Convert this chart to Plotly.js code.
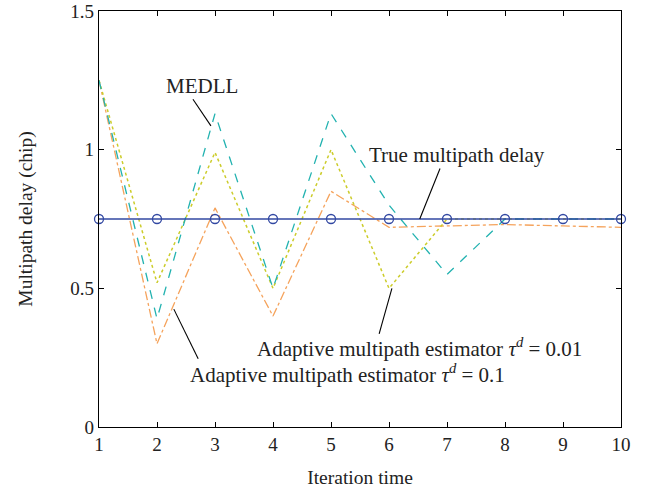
<!DOCTYPE html>
<html>
<head>
<meta charset="utf-8">
<script src="https://cdn.plot.ly/plotly-3.0.1.min.js"></script>
<style>html,body{margin:0;padding:0;background:#fff;}#chart{width:653px;height:492px;}</style>
</head>
<body>
<div id="chart"></div>
<script>
var iterations = [1, 2, 3, 4, 5, 6, 7, 8, 9, 10];
var trueDelay = [0.75, 0.75, 0.75, 0.75, 0.75, 0.75, 0.75, 0.75, 0.75, 0.75];
var medll = [1.25, 0.39, 1.13, 0.50, 1.13, 0.80, 0.55, 0.75, 0.75, 0.75];
var adaptive001 = [1.25, 0.52, 0.99, 0.50, 1.00, 0.50, 0.75, 0.75, 0.75, 0.75];
var adaptive01 = [1.25, 0.30, 0.79, 0.40, 0.85, 0.72, 0.725, 0.73, 0.725, 0.72];
var xTicks = [1, 2, 3, 4, 5, 6, 7, 8, 9, 10];
var yTicks = [0, 0.5, 1, 1.5];
var yTickLabels = ['0', '0.5', '1', '1.5'];

var font = 'Liberation Serif, Times New Roman, serif';
var txt = '#222';
var annSize = 21;

var traces = [
  {x: iterations, y: adaptive01, mode: 'lines', line: {color: '#f5a35c', width: 1.3, dash: 'dashdot'}},
  {x: iterations, y: adaptive001, mode: 'lines', line: {color: '#cccc2a', width: 1.5, dash: 'dot'}},
  {x: iterations, y: medll, mode: 'lines', line: {color: '#22b2b0', width: 1.3, dash: 'dash'}},
  {x: iterations, y: trueDelay, mode: 'lines+markers', line: {color: '#3248a2', width: 1.3},
   marker: {symbol: 'circle-open', size: 9, color: '#3248a2', line: {width: 1.3, color: '#3248a2'}}, cliponaxis: false}
];

var layout = {
  width: 653, height: 492,
  margin: {l: 99, r: 32, t: 11, b: 65},
  paper_bgcolor: '#fff', plot_bgcolor: '#fff',
  showlegend: false,
  font: {family: font, size: 19, color: txt},
  xaxis: {
    range: [1, 10], tickvals: xTicks, ticks: 'inside', ticklen: 5, tickcolor: '#000',
    showline: true, linecolor: '#000', linewidth: 1.2, mirror: 'ticks', showgrid: false, zeroline: false,
    ticklabeloverflow: 'allow',
    tickfont: {family: font, size: 19, color: txt},
    title: {text: 'Iteration time', font: {family: font, size: 19.5, color: txt}, standoff: 16}
  },
  yaxis: {
    range: [0, 1.5], tickvals: yTicks, ticktext: yTickLabels, ticks: 'inside', ticklen: 5, tickcolor: '#000',
    showline: true, linecolor: '#000', linewidth: 1.2, mirror: 'ticks', showgrid: false, zeroline: false,
    ticklabeloverflow: 'allow',
    tickfont: {family: font, size: 19, color: txt},
    title: {text: 'Multipath delay (chip)', font: {family: font, size: 19.5, color: txt}, standoff: 32}
  },
  shapes: [
    {type: 'line', xref: 'x', yref: 'y', x0: 2.62, y0: 1.182, x1: 2.93, y1: 1.086, line: {color: '#000', width: 1.1}},
    {type: 'line', xref: 'x', yref: 'y', x0: 6.88, y0: 0.932, x1: 6.53, y1: 0.75, line: {color: '#000', width: 1.1}},
    {type: 'line', xref: 'x', yref: 'y', x0: 6.05, y0: 0.50, x1: 5.83, y1: 0.336, line: {color: '#000', width: 1.1}},
    {type: 'line', xref: 'x', yref: 'y', x0: 2.29, y0: 0.425, x1: 2.71, y1: 0.246, line: {color: '#000', width: 1.1}}
  ],
  annotations: [
    {xref: 'x', yref: 'y', x: 2.78, y: 1.229, text: 'MEDLL', showarrow: false, xanchor: 'center', yanchor: 'middle', font: {family: font, size: annSize, color: txt}},
    {xref: 'x', yref: 'y', x: 7.17, y: 0.982, text: 'True multipath delay', showarrow: false, xanchor: 'center', yanchor: 'middle', font: {family: font, size: annSize, color: txt}},
    {xref: 'x', yref: 'y', x: 3.69, y: 0.286, text: 'Adaptive multipath estimator <i>τ</i><sup><i>d</i></sup> = 0.01', showarrow: false, xanchor: 'left', yanchor: 'middle', font: {family: font, size: annSize, color: txt}},
    {xref: 'x', yref: 'y', x: 2.53, y: 0.193, text: 'Adaptive multipath estimator <i>τ</i><sup><i>d</i></sup> = 0.1', showarrow: false, xanchor: 'left', yanchor: 'middle', font: {family: font, size: annSize, color: txt}}
  ]
};

Plotly.newPlot('chart', traces, layout, {displayModeBar: false, staticPlot: true});
</script>
</body>
</html>
